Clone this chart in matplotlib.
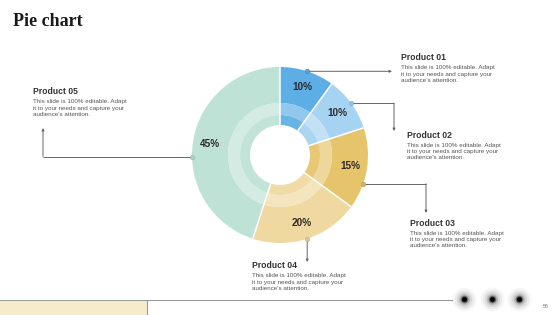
import matplotlib
matplotlib.use("Agg")
import matplotlib.pyplot as plt
import numpy as np
from matplotlib.colors import to_rgb
from matplotlib.patches import Rectangle

# ---- data ----
products = ["Product 01", "Product 02", "Product 03", "Product 04", "Product 05"]
shares = [10, 10, 15, 20, 45]
slice_colors = ["#5EAEE6", "#A6D3F1", "#E6C46C", "#EFD9A0", "#BEE2D5"]
body_text = "This slide is 100% editable. Adapt\nit to your needs and capture your\naudience's attention."
title = "Pie chart"
page_no = "56"

# ---- layout (pixels) ----
W, H = 560, 315
cx, cy, R = 280, 155, 88
anchor_offset = [0, 0, 10, 0, -10]   # degrees offset of connector dots from slice middle
routes = [
    [(392, None)],
    [(394, None), (394, 131)],
    [(426, None), (426, 213)],
    [(None, 262)],
    [(43, None), (43, 128)],
]
text_pos = [(401, 58), (407, 135), (410, 223), (252, 266), (33, 92)]

fig = plt.figure(figsize=(W / 100, H / 100), dpi=100)
ax = fig.add_axes([0, 0, 1, 1])

def blend(c, f):
    r = np.array(to_rgb(c))
    return tuple(r + (1 - r) * f)

def darken(c, f):
    r = np.array(to_rgb(c))
    return tuple(r * (1 - f))

FONT = ["Liberation Sans", "DejaVu Sans"]

# main donut (y axis inverted later -> counterclock in data = clockwise on screen)
wedges, _, autotexts = ax.pie(
    shares, colors=slice_colors, startangle=-90, counterclock=True,
    center=(cx, cy), radius=R,
    wedgeprops=dict(width=R - 52, edgecolor="none", linewidth=0),
    autopct=lambda p: f"{p:.0f}%", pctdistance=0.81,
    textprops=dict(fontsize=7.2, fontweight="bold", color="#2b2b2b", family=FONT))
ax.pie(shares, colors=[blend(c, 0.32) for c in slice_colors], startangle=-90,
       counterclock=True, center=(cx, cy), radius=52,
       wedgeprops=dict(width=12, edgecolor="none", linewidth=0))
ax.pie(shares, colors=[blend(c, 0.06) for c in slice_colors], startangle=-90,
       counterclock=True, center=(cx, cy), radius=40,
       wedgeprops=dict(width=10, edgecolor="none", linewidth=0))

# white radial separators
cum = np.cumsum([0] + shares[:-1])
for c0 in cum:
    a = np.deg2rad(-90 + 360 * c0 / sum(shares))
    ax.plot([cx + 30 * np.cos(a), cx + R * np.cos(a)],
            [cy + 30 * np.sin(a), cy + R * np.sin(a)],
            color="white", lw=1.1, solid_capstyle="butt", zorder=2.5)

for t in autotexts:
    t.set_ha("center")
    t.set_va("center")
    t.set_zorder(6)

# connectors & texts
line_col = "#666666"
for i, (p, v) in enumerate(zip(products, shares)):
    ang = np.deg2rad(-90 + 360 * (cum[i] + v / 2) / sum(shares) + anchor_offset[i])
    x0, y0 = cx + R * np.cos(ang), cy + R * np.sin(ang)
    pts = [(x0, y0)]
    for (px, py) in routes[i]:
        lx, ly = pts[-1]
        pts.append((lx if px is None else px, ly if py is None else py))
    if len(pts) > 2:
        xs, ys = zip(*pts[:-1])
        ax.plot(xs, ys, color=line_col, lw=0.7, solid_capstyle="butt", zorder=3)
    ax.annotate("", xy=pts[-1], xytext=pts[-2],
                arrowprops=dict(arrowstyle="-|>", mutation_scale=3.5, lw=0.7,
                                color=line_col, shrinkA=0, shrinkB=0), zorder=3)
    ax.plot([x0], [y0], marker="o", ms=3.2, mfc=darken(slice_colors[i], 0.08),
            mec=darken(slice_colors[i], 0.2), mew=0.4, zorder=4)
    tx, ty = text_pos[i]
    ax.text(tx, ty, p, fontsize=6.2, fontweight="bold", color="#333333",
            family=FONT, ha="left", va="center")
    ax.text(tx, ty + 7.5, body_text, fontsize=4.5, color="#555555",
            family=FONT, ha="left", va="top", linespacing=1.3)

# title
ax.text(13, 21, title, fontsize=13, fontweight="bold", color="#1a1a1a",
        family=["Liberation Serif", "DejaVu Serif"], ha="left", va="center")

# footer
ax.add_patch(Rectangle((0, 300), 147, 15, facecolor="#F6ECCB", edgecolor="none", zorder=1))
ax.plot([0, 452], [300, 300], color="#9a9a9a", lw=0.8, zorder=2)
ax.plot([147, 147], [300, 315], color="#9a9a9a", lw=0.8, zorder=2)
for dx in [464, 492, 519]:
    for s, a in [(300, 0.03), (200, 0.05), (120, 0.08), (65, 0.14), (32, 0.35), (16, 0.75), (8, 1.0)]:
        ax.scatter([dx], [299], s=s, color="black", alpha=a, linewidths=0, zorder=5)
ax.text(546, 307, page_no, fontsize=4, color="#777777", ha="center", va="center",
        family=FONT)

ax.set_xlim(0, W)
ax.set_ylim(H, 0)
ax.set_aspect("equal")
ax.axis("off")

fig.savefig("out.png", dpi=100, facecolor="white")
